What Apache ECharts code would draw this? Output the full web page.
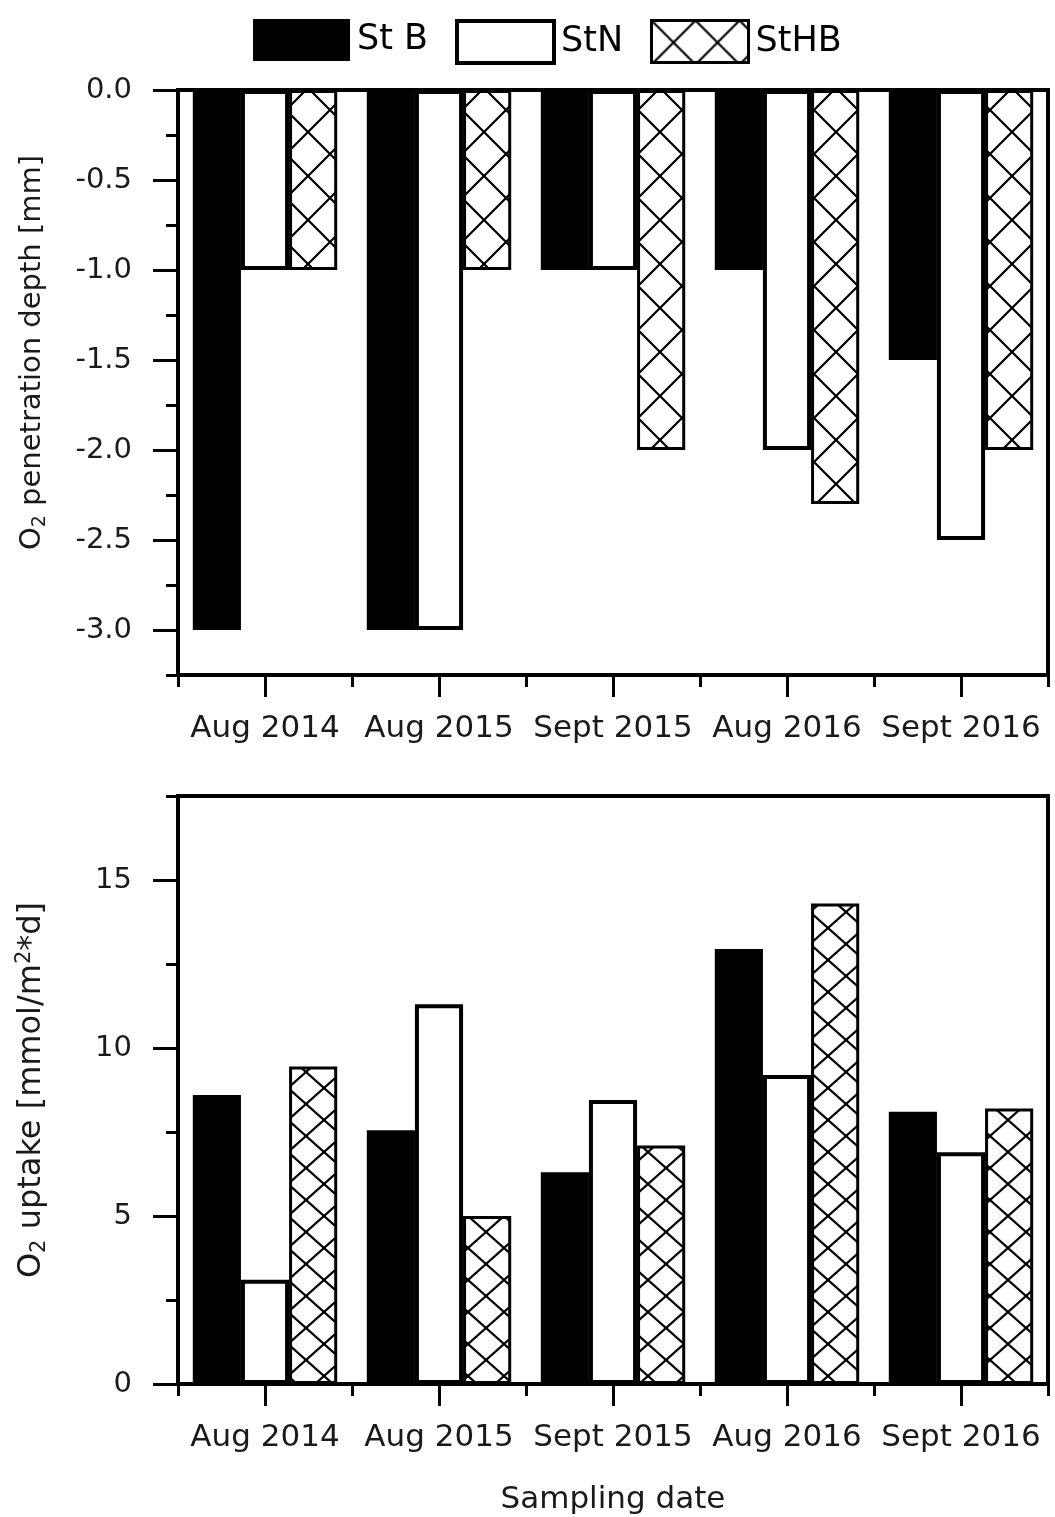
<!DOCTYPE html>
<html>
<head>
<meta charset="utf-8">
<script src="https://cdn.jsdelivr.net/npm/echarts@6/dist/echarts.min.js"></script>
<style>
  html, body { margin: 0; padding: 0; background: #fff; }
  #chart { width: 1055px; height: 1517px; }
</style>
</head>
<body>
<div id="chart"></div>
<script>
// Sampling campaigns (shared category axis of both panels)
const categories = ['Aug 2014', 'Aug 2015', 'Sept 2015', 'Aug 2016', 'Sept 2016'];
const stations = ['St B', 'StN', 'StHB'];

// O2 penetration depth [mm]
const depthStB  = [-3.0, -3.0, -1.0, -1.0, -1.5];
const depthStN  = [-1.0, -3.0, -1.0, -2.0, -2.5];
const depthStHB = [-1.0, -1.0, -2.0, -2.3, -2.0];

// O2 uptake [mmol/m2*d]
const uptakeStB  = [8.6, 7.55, 6.3, 12.95, 8.1];
const uptakeStN  = [3.1, 11.3, 8.45, 9.2, 6.9];
const uptakeStHB = [9.45, 5.0, 7.1, 14.3, 8.2];

// Axis ranges and tick positions
const depthRange = [-3.25, 0];
const depthTicks = [0, -0.5, -1.0, -1.5, -2.0, -2.5, -3.0];
const depthMinorTicks = [-0.25, -0.75, -1.25, -1.75, -2.25, -2.75, -3.25];
const uptakeRange = [0, 17.5];
const uptakeTicks = [0, 5, 10, 15];
const uptakeMinorTicks = [2.5, 7.5, 12.5, 17.5];

const FONT = 'DejaVu Sans';
const INK = '#1a1a1a';

// Cross-hatch tile used for the StHB bars
function hatchTile(w, h) {
  const c = document.createElement('canvas');
  c.width = w; c.height = h;
  const g = c.getContext('2d');
  g.fillStyle = '#ffffff';
  g.fillRect(0, 0, w, h);
  g.strokeStyle = '#000';
  g.lineWidth = 2.2;
  g.beginPath();
  for (let k = -1; k <= 1; k++) {
    g.moveTo(k * w, 0); g.lineTo(k * w + w, h);
    g.moveTo(k * w + w, 0); g.lineTo(k * w, h);
  }
  g.stroke();
  return c;
}
const hatchTop = { image: hatchTile(44, 44), repeat: 'repeat' };
const hatchBottom = { image: hatchTile(36, 32), repeat: 'repeat' };

const styles = {
  'St B': () => ({ color: '#000', borderColor: '#000', borderWidth: 0 }),
  'StN':  () => ({ color: '#fff', borderColor: '#000', borderWidth: 4 }),
  'StHB': (pat) => ({ color: pat, borderColor: '#000', borderWidth: 3 })
};

function barSeries(name, data, idx, pat) {
  return {
    type: 'bar',
    name: name,
    xAxisIndex: idx * 2,
    yAxisIndex: idx * 2,
    data: data,
    barGap: '0%',
    barCategoryGap: '17%',
    itemStyle: styles[name](pat),
    emphasis: { disabled: true },
    animation: false
  };
}

// Category axis with labels and centred ticks, plus a helper axis for the boundary ticks
function xAxes(gridIndex, withName) {
  return [
    {
      type: 'category', gridIndex: gridIndex, data: categories, position: 'bottom', offset: 0,
      axisLine: { show: true, onZero: false, lineStyle: { color: '#000', width: 4 } },
      axisTick: { show: true, alignWithLabel: true, length: 22, lineStyle: { color: '#000', width: 3 } },
      axisLabel: { interval: 0, margin: 38, fontFamily: FONT, fontSize: 31, color: INK },
      splitLine: { show: false },
      name: withName ? 'Sampling date' : '',
      nameLocation: 'middle', nameGap: 100,
      nameTextStyle: { fontFamily: FONT, fontSize: 31, color: INK }
    },
    {
      type: 'category', gridIndex: gridIndex, data: categories, position: 'bottom', offset: 0,
      axisLine: { show: false, onZero: false },
      axisTick: { show: true, interval: 0, length: 12, lineStyle: { color: '#000', width: 3 } },
      axisLabel: { show: false },
      splitLine: { show: false }
    }
  ];
}

function yAxes(gridIndex, range, ticks, minor, fmt, nameRich, titleSize, titleShift) {
  return [
    {
      type: 'value', gridIndex: gridIndex, min: range[0], max: range[1], position: 'left', offset: 0,
      axisLine: { show: true, onZero: false, lineStyle: { color: '#000', width: 4 } },
      axisTick: { show: true, length: 25, customValues: ticks, lineStyle: { color: '#000', width: 3 } },
      axisLabel: { customValues: ticks, margin: 46, formatter: fmt, fontFamily: FONT, fontSize: 29, color: INK },
      splitLine: { show: false },
      name: nameRich, nameLocation: 'middle', nameRotate: 90, nameGap: 128,
      nameTextStyle: {
        fontFamily: FONT, fontSize: titleSize, color: INK,
        padding: [0, 0, 0, titleShift],
        rich: {
          a: { fontFamily: FONT, fontSize: titleSize, color: INK, lineHeight: 36 },
          sub: { fontFamily: FONT, fontSize: Math.round(titleSize * 0.66), color: INK, verticalAlign: 'bottom', lineHeight: 36 },
          sup: { fontFamily: FONT, fontSize: Math.round(titleSize * 0.66), color: INK, verticalAlign: 'top', lineHeight: 36 }
        }
      }
    },
    {
      type: 'value', gridIndex: gridIndex, min: range[0], max: range[1], position: 'left', offset: 0,
      axisLine: { show: false, onZero: false },
      axisTick: { show: true, length: 12, customValues: minor, lineStyle: { color: '#000', width: 3 } },
      axisLabel: { show: false },
      splitLine: { show: false }
    }
  ];
}

function legendAt(name, left, width) {
  const extra = name === 'StN' ? { borderColor: '#000', borderWidth: 4 }
              : name === 'StHB' ? { borderColor: '#000', borderWidth: 3 } : {};
  return {
    data: [{ name: name, icon: 'rect', itemStyle: extra }],
    left: left, top: 14, width: width,
    itemWidth: 97, itemHeight: 42,
    selectedMode: false,
    textStyle: { fontFamily: FONT, fontSize: 35, color: '#000', padding: [0, 0, 0, 2] }
  };
}

const chart = echarts.init(document.getElementById('chart'), null, { renderer: 'canvas' });

chart.setOption({
  backgroundColor: '#fff',
  animation: false,
  legend: [
    legendAt('St B', 248, 200),
    legendAt('StN', 450, 190),
    legendAt('StHB', 645, 220)
  ],
  grid: [
    { left: 178, top: 90, width: 870, height: 585, show: true, borderColor: '#000', borderWidth: 4, backgroundColor: 'transparent' },
    { left: 178, top: 796, width: 870, height: 588, show: true, borderColor: '#000', borderWidth: 4, backgroundColor: 'transparent' }
  ],
  xAxis: [].concat(xAxes(0, false), xAxes(1, true)),
  yAxis: [].concat(
    yAxes(0, depthRange, depthTicks, depthMinorTicks,
      v => v.toFixed(1),
      '{a|O}{sub|2}{a| penetration depth [mm]}', 29, 60),
    yAxes(1, uptakeRange, uptakeTicks, uptakeMinorTicks,
      v => String(v),
      '{a|O}{sub|2}{a| uptake [mmol/m}{sup|2}{a|*d]}', 32, 0)
  ),
  series: [
    barSeries('St B', depthStB, 0),
    barSeries('StN', depthStN, 0),
    barSeries('StHB', depthStHB, 0, hatchTop),
    barSeries('St B', uptakeStB, 1),
    barSeries('StN', uptakeStN, 1),
    barSeries('StHB', uptakeStHB, 1, hatchBottom)
  ]
});
</script>
</body>
</html>
